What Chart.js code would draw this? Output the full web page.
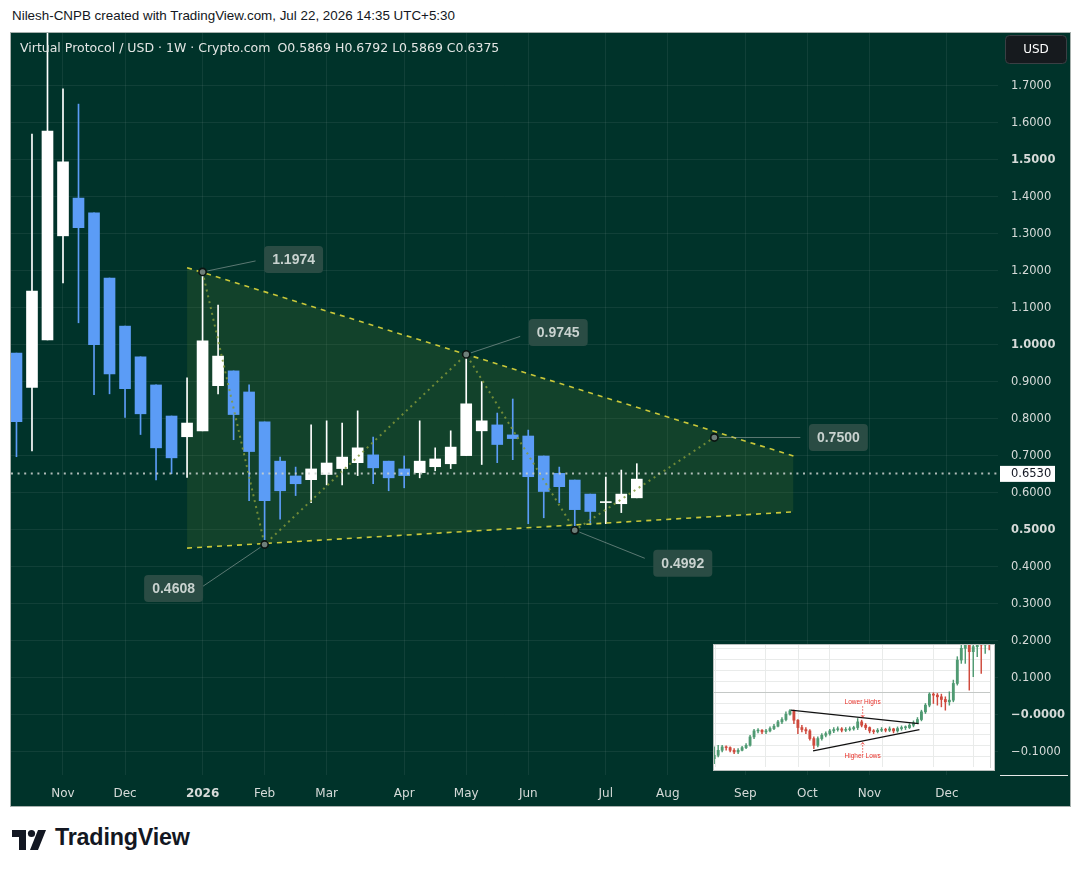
<!DOCTYPE html>
<html>
<head>
<meta charset="utf-8">
<script src="https://cdn.jsdelivr.net/npm/chart.js@4.4.1/dist/chart.umd.min.js"></script>
<style>
html,body{margin:0;padding:0;background:#fff;width:1080px;height:875px;overflow:hidden;}
#credit{position:absolute;left:12px;top:8px;font:13.4px "Liberation Sans",Arial,sans-serif;color:#131722;white-space:pre;}
#frame{position:absolute;left:10px;top:32px;width:1059px;height:773px;border:1px solid #a7b0ad;background:#00332a;}
#main{position:absolute;left:0;top:0;}
#legend{position:absolute;left:9px;top:7px;font:12.5px "DejaVu Sans",sans-serif;color:#e3e6e4;white-space:pre;}
#legend span{margin-left:4px;}
#legend span:first-child{margin-left:7px;}
#inset{position:absolute;left:713px;top:644px;background:#fff;}
#logo{position:absolute;left:12px;top:826px;}
#logotext{position:absolute;left:55px;top:824px;font:bold 23.3px "Liberation Sans",Arial,sans-serif;color:#131722;letter-spacing:-0.2px;}
</style>
</head>
<body>
<div id="credit">Nilesh-CNPB created with TradingView.com, Jul 22, 2026 14:35 UTC+5:30</div>
<div id="frame">
  <canvas id="main" width="1059" height="773"></canvas>
  <div id="legend"></div>
</div>
<canvas id="inset" width="282" height="127"></canvas>
<svg id="logo" width="40" height="28" viewBox="0 0 40 28">
  <path d="M0 4 H14 V24 H7 V11 H0 Z" fill="#131722"/>
  <circle cx="19.5" cy="7.5" r="3.6" fill="#131722"/>
  <path d="M26 4 H34 L26 24 H18 Z" fill="#131722"/>
</svg>
<div id="logotext">TradingView</div>
<script>
// ---------------- main chart data ----------------
const symbolTitle = "Virtual Protocol / USD · 1W · Crypto.com";
const ohlcLabels = ["O0.5869", "H0.6792", "L0.5869", "C0.6375"];

const weekIdx = [-3,-2,-1,0,1,2,3,4,5,6,7,8,9,10,11,12,13,14,15,16,17,18,19,20,21,22,23,24,25,26,27,28,29,30,31,32,33,34,35,36,37];
const opens  = [0.978,0.885,1.014,1.295,1.397,1.357,1.181,1.051,0.968,0.892,0.808,0.752,0.768,0.890,0.930,0.873,0.792,0.686,0.646,0.636,0.650,0.666,0.682,0.703,0.686,0.665,0.655,0.671,0.679,0.701,0.768,0.784,0.757,0.754,0.700,0.653,0.635,0.597,0.574,0.571,0.5869];
const highs  = [0.978,1.570,1.900,1.692,1.651,1.357,1.181,1.051,0.968,0.892,0.808,0.911,1.1974,1.108,0.930,0.892,0.792,0.697,0.670,0.784,0.795,0.789,0.822,0.751,0.686,0.700,0.795,0.722,0.768,0.9745,0.901,0.816,0.854,0.770,0.700,0.670,0.635,0.597,0.643,0.662,0.6792];
const lows   = [0.698,0.714,1.014,1.168,1.060,0.866,0.868,0.804,0.758,0.635,0.652,0.642,0.768,0.868,0.744,0.579,0.4608,0.529,0.593,0.574,0.622,0.622,0.647,0.625,0.606,0.614,0.641,0.660,0.666,0.701,0.677,0.682,0.690,0.517,0.533,0.574,0.4992,0.514,0.517,0.547,0.5869];
const closes = [0.793,1.146,1.578,1.495,1.317,1.001,0.922,0.882,0.814,0.722,0.695,0.789,1.011,0.970,0.812,0.712,0.579,0.606,0.625,0.665,0.681,0.697,0.722,0.668,0.641,0.647,0.686,0.692,0.724,0.841,0.795,0.731,0.747,0.644,0.604,0.617,0.555,0.550,0.576,0.597,0.6375];

const lastPrice = 0.6530;

const monthIdx    = [0,4,9,13,17,22,26,30,35,39,44,48,52,57];
const monthLabels = ["Nov","Dec","2026","Feb","Mar","Apr","May","Jun","Jul","Aug","Sep","Oct","Nov","Dec"];

const priceTicks  = [1.7,1.6,1.5,1.4,1.3,1.2,1.1,1.0,0.9,0.8,0.7,0.6,0.5,0.4,0.3,0.2,0.1,0.0,-0.1];
const priceLabels = ["1.7000","1.6000","1.5000","1.4000","1.3000","1.2000","1.1000","1.0000","0.9000","0.8000","0.7000","0.6000","0.5000","0.4000","0.3000","0.2000","0.1000","\u22120.0000","\u22120.1000"];
const boldPriceTicks = [1.5,1.0,0.5,0.0];

// triangle pattern
const triX     = [8, 47.1];
const triUpper = [1.209, 0.700];
const triLower = [0.451, 0.549];

// pivot points (zig-zag) and their labels
const pivotX   = [9, 13, 26, 33, 42];
const pivotY   = [1.1974, 0.4608, 0.9745, 0.4992, 0.7500];
const pivotTxt = ["1.1974","0.4608","0.9745","0.4992","0.7500"];

// -------- styles (layout only) --------
const UP = '#ffffff', DOWN = '#5b9cf6';
const TXT = '#d6dbd9';
const labelBoxOffset = [[91,-12.5],[-91,44],[92,-22],[108,33],[124,0]];
const connectorEnd   = [[53,-11],[-62,42],[54,-18],[70,28],[86,0]];

document.getElementById('legend').innerHTML =
  symbolTitle + ohlcLabels.map(s => '<span>' + s + '</span>').join('');

const candleColors = closes.map((c,i) => c >= opens[i] ? UP : DOWN);

const overlayPlugin = {
  id: 'overlay',
  afterDatasetsDraw(chart) {
    const {ctx, chartArea, scales} = chart;
    const xs = scales.x, ys = scales.y;
    ctx.save();
    const py = Math.round(ys.getPixelForValue(lastPrice)) + 0.5;
    ctx.strokeStyle = 'rgba(205,210,208,0.85)';
    ctx.lineWidth = 2;
    ctx.setLineDash([2,4.6]);
    ctx.beginPath();
    ctx.moveTo(chartArea.left, py);
    ctx.lineTo(chartArea.right, py);
    ctx.stroke();
    ctx.setLineDash([]);
    for (let i = 0; i < pivotX.length; i++) {
      const px = xs.getPixelForValue(pivotX[i]);
      const pyy = ys.getPixelForValue(pivotY[i]);
      const [ex, ey] = connectorEnd[i];
      const len = Math.hypot(ex, ey);
      ctx.strokeStyle = 'rgba(165,178,175,0.55)';
      ctx.lineWidth = 1;
      ctx.beginPath();
      ctx.moveTo(px + ex/len*5, pyy + ey/len*5);
      ctx.lineTo(px + ex, pyy + ey);
      ctx.stroke();
      const [dx, dy] = labelBoxOffset[i];
      const cx = px + dx, cy = pyy + dy;
      const w = 59, h = 27;
      ctx.fillStyle = '#2a4c44';
      ctx.beginPath();
      ctx.roundRect(cx - w/2, cy - h/2, w, h, 4);
      ctx.fill();
      ctx.fillStyle = '#c9d2cf';
      ctx.font = 'bold 14px "Liberation Sans", Arial, sans-serif';
      ctx.textAlign = 'center';
      ctx.textBaseline = 'middle';
      ctx.fillText(pivotTxt[i], cx, cy + 1);
    }
    ctx.restore();
  },
  afterDraw(chart) {
    const {ctx, chartArea, scales} = chart;
    const ys = scales.y;
    ctx.save();
    const py = ys.getPixelForValue(lastPrice);
    ctx.fillStyle = '#ffffff';
    ctx.fillRect(chartArea.right + 2, py - 7.5, 55, 16);
    ctx.fillStyle = '#131722';
    ctx.font = '11.5px "DejaVu Sans", sans-serif';
    ctx.textAlign = 'left';
    ctx.textBaseline = 'middle';
    ctx.fillText(lastPrice.toFixed(4), chartArea.right + 13, py + 0.5);
    ctx.fillStyle = '#161a1e';
    ctx.strokeStyle = '#3a3f44';
    ctx.lineWidth = 1;
    ctx.beginPath();
    ctx.roundRect(chartArea.right + 7.5, 2.5, 61, 28, 4);
    ctx.fill(); ctx.stroke();
    ctx.fillStyle = '#ffffff';
    ctx.font = '12px "DejaVu Sans", sans-serif';
    ctx.textAlign = 'center';
    ctx.fillText('USD', chartArea.right + 38, 17);
    ctx.strokeStyle = '#e6e9e8';
    ctx.beginPath();
    ctx.moveTo(chartArea.right + 2, chartArea.bottom + 0.5);
    ctx.lineTo(chartArea.right + 70, chartArea.bottom + 0.5);
    ctx.stroke();
    ctx.restore();
  }
};

new Chart(document.getElementById('main'), {
  type: 'bar',
  data: {
    datasets: [
      { type:'bar', data: weekIdx.map((x,i)=>({x, y:[lows[i], highs[i]]})),
        backgroundColor: candleColors, barThickness: 1, grouped: false, order: 5 },
      { type:'bar', data: weekIdx.map((x,i)=>({x, y:[opens[i], closes[i]]})),
        backgroundColor: candleColors, barThickness: 11, grouped: false, minBarLength: 1, order: 4 },
      { type:'line', data: triX.map((x,i)=>({x, y: triUpper[i]})),
        borderColor:'#c9c83a', borderWidth:1.6, borderDash:[5,5], pointRadius:0, fill:false, order:3 },
      { type:'line', data: triX.map((x,i)=>({x, y: triLower[i]})),
        borderColor:'#c9c83a', borderWidth:1.6, borderDash:[5,5], pointRadius:0,
        fill:'-1', backgroundColor:'rgba(92,128,52,0.2)', order:3 },
      { type:'line', data: pivotX.map((x,i)=>({x, y: pivotY[i]})),
        borderColor:'rgba(130,152,58,0.85)', borderWidth:2, borderDash:[2,4], pointRadius:0, fill:false, order:2 },
      { type:'line', showLine:false, data: pivotX.map((x,i)=>({x, y: pivotY[i]})),
        pointRadius:3.6, pointHoverRadius:3.6, pointBackgroundColor:'#6f7f7a', pointBorderColor:'#0b1512', pointBorderWidth:1.6, order:1 }
    ]
  },
  options: {
    responsive: false,
    animation: false,
    layout: { padding: 0, autoPadding: false },
    plugins: {
      legend: { display:false },
      tooltip: { enabled:false },
      filler: { drawTime: 'beforeDatasetsDraw' }
    },
    scales: {
      x: {
        type:'linear', position:'bottom', min:-3.353, max:60.29, offset:false,
        afterFit(s){ s.height = 31; s.paddingLeft = 0; s.paddingRight = 0; },
        afterBuildTicks(s){ s.ticks = monthIdx.map(v => ({value:v})); },
        grid: { color:'rgba(255,255,255,0.065)', drawTicks:false, offset:false },
        border: { display:false },
        ticks: {
          autoSkip:false, maxRotation:0, padding:12, color:TXT,
          font: (c) => ({ family:'"DejaVu Sans", sans-serif', size:12, weight: monthLabels[c.index]==='2026' ? 'bold' : 'normal' }),
          callback: (v,i) => monthLabels[i]
        }
      },
      y: {
        type:'linear', position:'right', min:-0.1622, max:1.8432,
        afterFit(s){ s.width = 72; s.paddingTop = 0; s.paddingBottom = 0; },
        afterBuildTicks(s){ s.ticks = priceTicks.map(v => ({value:v})); },
        grid: { color:'rgba(255,255,255,0.065)', drawTicks:false },
        border: { display:false },
        ticks: {
          autoSkip:false, padding:13, color:TXT,
          font: (c) => ({ family:'"DejaVu Sans", sans-serif', size:11.5, weight: (c.tick && boldPriceTicks.includes(c.tick.value)) ? 'bold' : 'normal' }),
          callback: (v,i) => priceLabels[i]
        }
      }
    }
  },
  plugins: [overlayPlugin]
});

// ---------------- inset (pasted example picture) ----------------
const insOpen  = [4.5,5.5,7.0,8.0,7.8,7.0,6.5,7.0,7.8,8.5,11.0,12.8,13.0,12.5,12.8,13.5,14.2,15.5,16.2,17.8,18.8,16.0,13.8,13.2,12.8,10.5,8.5,10.5,11.5,12.0,12.8,13.2,13.4,13.0,13.2,13.4,13.8,15.5,14.5,13.8,12.8,12.6,13.0,13.2,13.0,13.4,12.8,13.5,13.8,13.8,14.5,15.2,16.2,18.5,20.5,23.8,23.5,23.0,22.2,21.5,22.0,27.0,34.0,37.5,38.5,36.5,38.0,39.0,38.5,39.5];
const insHigh  = [8.0,8.5,8.5,8.3,8.0,7.5,7.5,8.2,9.0,11.5,13.3,13.5,13.2,13.3,14.0,14.8,16.0,16.8,18.5,19.2,19.0,16.2,14.5,13.8,13.2,11.0,11.0,12.0,12.5,13.3,13.8,14.0,13.8,13.8,14.0,14.2,16.5,16.0,15.0,14.0,13.2,13.5,13.8,13.6,14.0,13.6,14.0,14.3,14.3,15.0,15.8,16.8,19.0,21.0,24.2,24.2,24.0,23.8,23.0,24.5,28.0,35.0,38.5,39.5,39.0,39.5,39.5,39.5,40.0,40.0];
const insLow   = [3.0,5.0,6.5,7.0,6.5,6.0,6.0,6.8,7.5,8.2,10.5,12.2,12.0,12.0,12.5,13.2,14.0,15.0,15.8,17.5,15.0,12.0,12.5,12.0,10.0,7.5,8.0,10.0,11.0,11.5,12.3,12.7,12.5,12.6,12.8,13.0,13.2,14.0,13.2,12.2,12.0,12.2,12.6,12.5,12.6,12.2,12.4,13.0,13.2,13.5,14.0,15.0,15.8,18.0,20.0,21.0,20.5,20.0,19.0,20.5,21.5,26.5,33.0,33.0,25.0,29.0,35.0,30.0,36.0,37.0];
const insClose = [5.5,7.0,8.0,7.8,7.0,6.5,7.0,7.8,8.5,11.0,12.8,13.0,12.5,12.8,13.5,14.2,15.5,16.2,17.8,18.8,16.0,13.8,13.2,12.8,10.5,8.5,10.5,11.5,12.0,12.8,13.2,13.4,13.0,13.2,13.4,13.8,15.5,14.5,13.8,12.8,12.6,13.0,13.2,13.0,13.4,12.8,13.5,13.8,13.8,14.5,15.2,16.2,18.5,20.5,23.8,23.5,23.0,22.2,21.5,22.0,27.0,34.0,37.5,38.5,36.5,38.0,39.0,38.5,39.5,39.0];
const insUpperX = [19.2, 51.3], insUpperY = [19.0, 15.0];
const insLowerX = [24.8, 51.5], insLowerY = [6.8, 13.2];
const insGridY = [5.0, 8.3, 11.6, 14.9, 18.1, 21.0, 24.2, 27.5, 30.8, 34.1, 37.4];
const insGridX = [6.7, 19.2, 23.3, 34.6, 50.0, 60.0];
const insNotes = [{x:37.25, y:21.3, text:'Lower Highs', a0:20.2, a1:16.9},
                  {x:37.25, y:5.2,  text:'Higher Lows', a0:6.3,  a1:9.3}];

const insColors = insClose.map((c,i) => c >= insOpen[i] ? '#4f9a72' : '#cf4a3d');
const insIdx = insClose.map((_,i) => i);

const insetPlugin = {
  id:'insetNotes',
  beforeDraw(chart){
    const {ctx, width, height} = chart;
    ctx.save();
    ctx.fillStyle = '#ffffff';
    ctx.fillRect(0,0,width,height);
    ctx.restore();
  },
  afterDatasetsDraw(chart){
    const {ctx, scales} = chart;
    ctx.save();
    ctx.font = '6.5px "Liberation Sans", Arial, sans-serif';
    ctx.fillStyle = '#e8322a';
    ctx.strokeStyle = '#e8322a';
    ctx.textAlign = 'center';
    ctx.textBaseline = 'middle';
    insNotes.forEach(n => {
      const x = scales.x.getPixelForValue(n.x);
      ctx.fillText(n.text, x, scales.y.getPixelForValue(n.y));
      const y0 = scales.y.getPixelForValue(n.a0), y1 = scales.y.getPixelForValue(n.a1);
      ctx.lineWidth = 0.8;
      ctx.setLineDash([1.5,1.5]);
      ctx.beginPath(); ctx.moveTo(x, y0); ctx.lineTo(x, y1); ctx.stroke();
      ctx.setLineDash([]);
      const d = y1 > y0 ? 1 : -1;
      ctx.beginPath(); ctx.moveTo(x-1.6, y1 - d*2); ctx.lineTo(x, y1); ctx.lineTo(x+1.6, y1 - d*2); ctx.stroke();
    });
    ctx.restore();
  },
  afterDraw(chart){
    const {ctx, width, height} = chart;
    ctx.save();
    ctx.strokeStyle = '#b9bfbd';
    ctx.lineWidth = 1;
    ctx.strokeRect(0.5,0.5,width-1,height-1);
    ctx.restore();
  }
};

new Chart(document.getElementById('inset'), {
  type:'bar',
  data:{
    datasets:[
      { type:'bar', data: insIdx.map((x,i)=>({x, y:[insLow[i], insHigh[i]]})), backgroundColor: insColors, barThickness:0.8, grouped:false, order:4 },
      { type:'bar', data: insIdx.map((x,i)=>({x, y:[insOpen[i], insClose[i]]})), backgroundColor: insColors, barThickness:2.2, grouped:false, minBarLength:0.8, order:3 },
      { type:'line', data: insUpperX.map((x,i)=>({x, y:insUpperY[i]})), borderColor:'#111', borderWidth:1.3, pointRadius:0, order:1 },
      { type:'line', data: insLowerX.map((x,i)=>({x, y:insLowerY[i]})), borderColor:'#111', borderWidth:1.3, pointRadius:0, order:1 }
    ]
  },
  options:{
    responsive:false, animation:false,
    layout:{ padding:{ top:1, left:0, right:0, bottom:0 }, autoPadding:false },
    plugins:{ legend:{display:false}, tooltip:{enabled:false} },
    scales:{
      x:{ type:'linear', min:-0.3, max:69.2, offset:false,
          afterFit(s){ s.height = 4; s.paddingLeft = 0; s.paddingRight = 0; },
          afterBuildTicks(s){ s.ticks = insGridX.map(v=>({value:v})); },
          grid:{ color:'#e9ebea', drawTicks:false }, border:{display:false}, ticks:{display:false} },
      y:{ type:'linear', position:'right', min:2.0, max:38.5,
          afterFit(s){ s.width = 5; s.paddingTop = 0; s.paddingBottom = 0; },
          afterBuildTicks(s){ s.ticks = insGridY.map(v=>({value:v})); },
          grid:{ color:(c)=> (c.tick && c.tick.value===24.2) ? '#c4c8c6' : '#e9ebea', drawTicks:false },
          border:{display:true, color:'#d5d8d6'}, ticks:{display:false} }
    }
  },
  plugins:[insetPlugin]
});
</script>
</body>
</html>
